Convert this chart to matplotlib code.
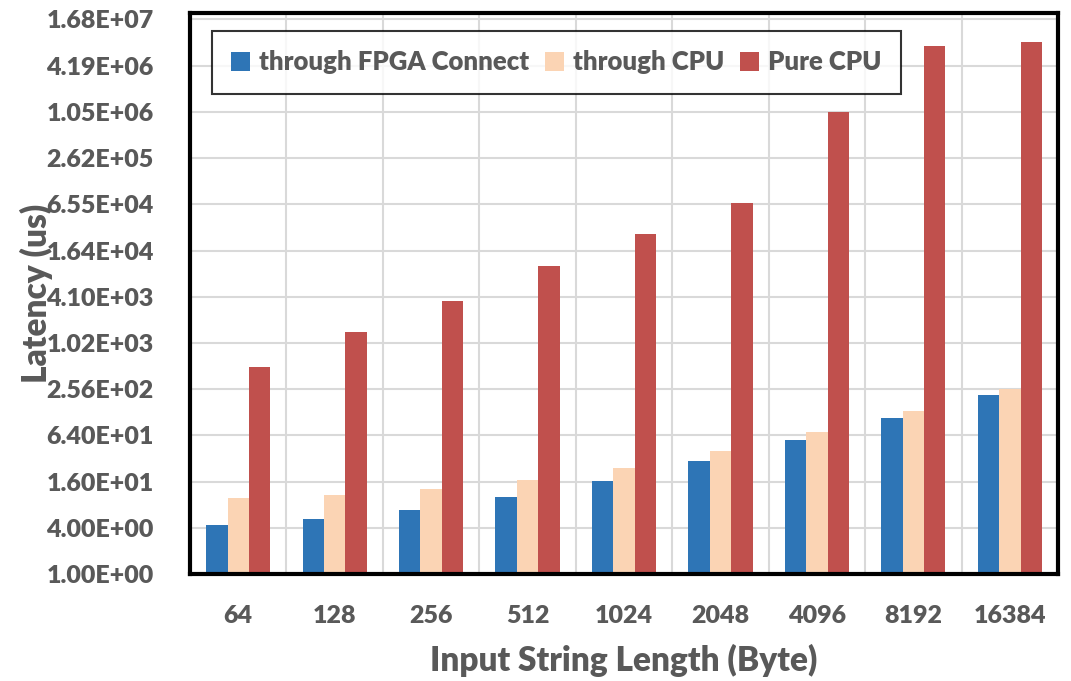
import matplotlib.pyplot as plt
import numpy as np
from matplotlib.ticker import FixedLocator, FuncFormatter

plt.rcParams['font.family'] = ['Lato', 'DejaVu Sans']
plt.rcParams['font.weight'] = 'heavy'

# 数据
lengths = ['64', '128', '256', '512', '1024', '2048', '4096', '8192', '16384']
fpga = [4.35, 5.2, 6.8, 10.1, 16.4, 29.5, 55.6, 107, 216]
thru_cpu = [9.8, 10.8, 12.8, 16.8, 24, 39.8, 71, 133, 260]
pure_cpu = [495, 1440, 3600, 10300, 27000, 69000, 1.03e6, 7.6e6, 8.5e6]
series_names = ['through FPGA Connect', 'through CPU', 'Pure CPU']
colors = ['#2E75B6', '#FBD4B4', '#C0504D']

gray = '#595959'
fig = plt.figure(figsize=(10.71, 6.81), dpi=100)
ax = fig.add_axes([0.1774, 0.1571, 0.8105, 0.8238])

x = np.arange(len(lengths))
w = 0.222
for i, (vals, c, name) in enumerate(zip([fpga, thru_cpu, pure_cpu], colors, series_names)):
    ax.bar(x + (i - 1) * w, vals, width=w, color=c, label=name, zorder=3)

ax.set_yscale('log', base=4)
ax.set_ylim(1, 4 ** 12.14)
ax.set_xlim(-0.5, len(lengths) - 0.5)
ax.yaxis.set_major_locator(FixedLocator([4.0 ** k for k in range(13)]))
ax.yaxis.set_minor_locator(FixedLocator([]))
ax.yaxis.set_major_formatter(FuncFormatter(lambda v, p: '%.2E' % v))
ax.set_xticks(x)
ax.set_xticklabels(lengths)
ax.set_xticks(np.arange(len(lengths) + 1) - 0.5, minor=True)

ax.grid(True, which='major', axis='y', color='#D9D9D9', linewidth=1.5, zorder=0)
ax.grid(True, which='minor', axis='x', color='#D9D9D9', linewidth=1.5, zorder=0)
ax.tick_params(axis='both', which='both', length=0, labelsize=18, labelcolor=gray)
ax.tick_params(axis='y', pad=26)
ax.tick_params(axis='x', pad=22)
for lab in ax.get_xticklabels() + ax.get_yticklabels():
    lab.set_fontweight('heavy')

for s in ax.spines.values():
    s.set_linewidth(3)
    s.set_color('black')
    s.set_zorder(5)

ax.set_xlabel('Input String Length (Byte)', fontsize=24, color=gray, fontweight='heavy')
ax.set_ylabel('Latency (us)', fontsize=24, color=gray, fontweight='heavy')
ax.yaxis.set_label_coords(-0.158, 0.5)
ax.xaxis.set_label_coords(0.5, -0.125)

leg = ax.legend(loc='upper left', bbox_to_anchor=(0.0253, 0.968), ncol=3, fontsize=18.5,
                frameon=True, fancybox=False, borderpad=0.75, handlelength=0.75,
                handleheight=0.75, handletextpad=0.35, columnspacing=0.6, borderaxespad=0)
leg.get_frame().set_edgecolor('black')
leg.get_frame().set_linewidth(1.5)
for t in leg.get_texts():
    t.set_color(gray)
    t.set_fontweight('heavy')
leg.set_zorder(6)

fig.savefig('out.png', dpi=100)
